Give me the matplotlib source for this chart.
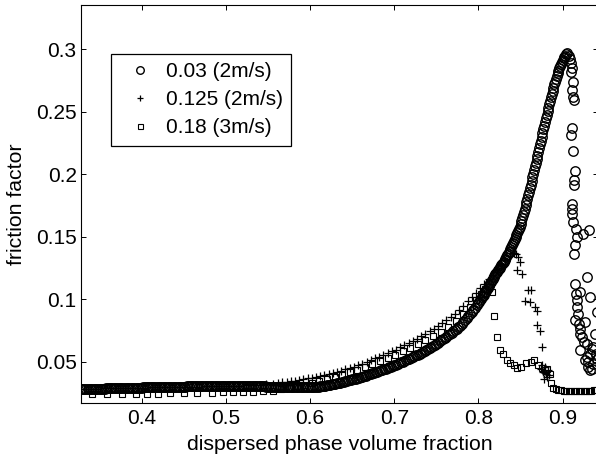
import matplotlib
matplotlib.use('Agg')
import matplotlib.pyplot as plt

plt.rcParams['font.family'] = ['Liberation Sans', 'DejaVu Sans']

# ---------------- data ----------------
# series "0.03 (2m/s)" (circles) - main curve, read at two interleaved sets of positions
circ_flat_x = [0.328, 0.332, 0.336, 0.340, 0.344, 0.348, 0.352, 0.356, 0.360, 0.364,
               0.368, 0.372, 0.376, 0.380, 0.384, 0.388, 0.392, 0.396, 0.400, 0.404,
               0.408, 0.412, 0.416, 0.420, 0.424, 0.428, 0.432, 0.436, 0.440, 0.444,
               0.448, 0.452, 0.456, 0.460, 0.464, 0.468, 0.472, 0.476, 0.480, 0.484,
               0.488, 0.492, 0.496, 0.500, 0.504, 0.508, 0.512, 0.516, 0.520, 0.524,
               0.528, 0.532, 0.536, 0.540, 0.544, 0.548, 0.552, 0.556, 0.560, 0.564,
               0.568, 0.572, 0.576, 0.580, 0.584, 0.588, 0.592, 0.596, 0.600]
circ_flat_y = [0.0278, 0.0279, 0.0280, 0.0281, 0.0282, 0.0283, 0.0284, 0.0285, 0.0286, 0.0287,
               0.0287, 0.0288, 0.0289, 0.0290, 0.0290, 0.0291, 0.0292, 0.0292, 0.0293, 0.0294,
               0.0294, 0.0295, 0.0296, 0.0296, 0.0297, 0.0298, 0.0298, 0.0299, 0.0300, 0.0300,
               0.0301, 0.0301, 0.0302, 0.0303, 0.0303, 0.0304, 0.0304, 0.0305, 0.0305, 0.0306,
               0.0306, 0.0307, 0.0307, 0.0308, 0.0308, 0.0308, 0.0308, 0.0307, 0.0307, 0.0306,
               0.0306, 0.0305, 0.0304, 0.0303, 0.0302, 0.0301, 0.0300, 0.0299, 0.0298, 0.0297,
               0.0297, 0.0296, 0.0296, 0.0295, 0.0295, 0.0295, 0.0295, 0.0296, 0.0296]
circ_flat2_x = [0.330, 0.334, 0.338, 0.342, 0.346, 0.350, 0.354, 0.358, 0.362, 0.366,
                0.370, 0.374, 0.378, 0.382, 0.386, 0.390, 0.394, 0.398, 0.402, 0.406,
                0.410, 0.414, 0.418, 0.422, 0.426, 0.430, 0.434, 0.438, 0.442, 0.446,
                0.450, 0.454, 0.458, 0.462, 0.466, 0.470, 0.474, 0.478, 0.482, 0.486,
                0.490, 0.494, 0.498, 0.502, 0.506, 0.510, 0.514, 0.518, 0.522, 0.526,
                0.530, 0.534, 0.538, 0.542, 0.546, 0.550, 0.554, 0.558, 0.562, 0.566,
                0.570, 0.574, 0.578, 0.582, 0.586, 0.590, 0.594, 0.598]
circ_flat2_y = [0.02785, 0.02795, 0.02805, 0.02815, 0.02825, 0.02835, 0.02845, 0.02855, 0.02865, 0.0287,
                0.02875, 0.02885, 0.02895, 0.0290, 0.02905, 0.02915, 0.0292, 0.02925, 0.02935, 0.0294,
                0.02945, 0.02955, 0.0296, 0.02965, 0.02975, 0.0298, 0.02985, 0.02995, 0.0300, 0.03005,
                0.0301, 0.03015, 0.03025, 0.0303, 0.03035, 0.0304, 0.03045, 0.0305, 0.03055, 0.0306,
                0.03065, 0.0307, 0.03075, 0.0308, 0.0308, 0.0308, 0.03075, 0.0307, 0.03065, 0.0306,
                0.03055, 0.03045, 0.03035, 0.03025, 0.03015, 0.03005, 0.02995, 0.02985, 0.02975, 0.0297,
                0.02965, 0.0296, 0.02955, 0.0295, 0.0295, 0.0295, 0.02955, 0.0296]
circ_mid_x = [0.604, 0.608, 0.612, 0.616, 0.620, 0.624, 0.628, 0.632, 0.636, 0.640,
              0.644, 0.648, 0.652, 0.656, 0.660, 0.664, 0.668, 0.672, 0.676, 0.680,
              0.684, 0.688, 0.692, 0.696, 0.700, 0.704, 0.708, 0.712, 0.716, 0.720,
              0.724, 0.728, 0.732, 0.736, 0.740, 0.744, 0.748, 0.752, 0.756, 0.760,
              0.764, 0.768, 0.772, 0.776, 0.780, 0.784, 0.788, 0.792, 0.796, 0.800]
circ_mid_y = [0.0298, 0.0300, 0.0302, 0.0306, 0.0310, 0.0315, 0.0321, 0.0327, 0.0333, 0.0340,
              0.0347, 0.0354, 0.0361, 0.0368, 0.0375, 0.0384, 0.0393, 0.0402, 0.0411, 0.0420,
              0.0430, 0.0440, 0.0450, 0.0460, 0.0470, 0.0482, 0.0494, 0.0506, 0.0518, 0.0530,
              0.0543, 0.0557, 0.0571, 0.0585, 0.0600, 0.0617, 0.0634, 0.0652, 0.0671, 0.0690,
              0.0710, 0.0731, 0.0753, 0.0776, 0.0800, 0.0830, 0.0862, 0.0895, 0.0931, 0.0970]
circ_mid2_x = [0.602, 0.606, 0.610, 0.614, 0.618, 0.622, 0.626, 0.630, 0.634, 0.638,
               0.642, 0.646, 0.650, 0.654, 0.658, 0.662, 0.666, 0.670, 0.674, 0.678,
               0.682, 0.686, 0.690, 0.694, 0.698, 0.702, 0.706, 0.710, 0.714, 0.718,
               0.722, 0.726, 0.730, 0.734, 0.738, 0.742, 0.746, 0.750, 0.754, 0.758,
               0.762, 0.766, 0.770, 0.774, 0.778, 0.782, 0.786, 0.790, 0.794, 0.798]
circ_mid2_y = [0.0297, 0.0299, 0.0301, 0.0304, 0.0308, 0.03125, 0.0318, 0.0324, 0.0330, 0.03365,
               0.03435, 0.03505, 0.03575, 0.03645, 0.03715, 0.03795, 0.03885, 0.03975, 0.04065, 0.04155,
               0.0425, 0.0435, 0.0445, 0.0455, 0.0465, 0.0476, 0.0488, 0.0500, 0.0512, 0.0524,
               0.05365, 0.0550, 0.0564, 0.0578, 0.05925, 0.06085, 0.06255, 0.0643, 0.06615, 0.06805,
               0.0700, 0.07205, 0.0742, 0.07645, 0.0788, 0.0815, 0.0846, 0.08785, 0.0913, 0.09505]
circ_rise_x = [0.802, 0.804, 0.806, 0.808, 0.810, 0.812, 0.814, 0.816, 0.818, 0.820,
               0.822, 0.824, 0.826, 0.828, 0.830, 0.832, 0.834, 0.836, 0.838, 0.840,
               0.842, 0.844, 0.846, 0.848, 0.850, 0.852, 0.854, 0.856, 0.858, 0.860,
               0.862, 0.864, 0.866, 0.868, 0.870, 0.872, 0.874, 0.876, 0.878, 0.880,
               0.882, 0.884, 0.886, 0.888, 0.890, 0.892, 0.894, 0.896, 0.898, 0.900,
               0.902, 0.904]
circ_rise_y = [0.0992, 0.1014, 0.1036, 0.1058, 0.1080, 0.1104, 0.1128, 0.1152, 0.1176, 0.1200,
               0.1220, 0.1240, 0.1260, 0.1280, 0.1300, 0.1325, 0.1350, 0.1376, 0.1403, 0.1430,
               0.1462, 0.1495, 0.1528, 0.1563, 0.1600, 0.1650, 0.1700, 0.1752, 0.1805, 0.1860,
               0.1918, 0.1976, 0.2034, 0.2092, 0.2150, 0.2210, 0.2270, 0.2330, 0.2390, 0.2450,
               0.2505, 0.2560, 0.2615, 0.2668, 0.2720, 0.2765, 0.2808, 0.2848, 0.2885, 0.2918,
               0.2942, 0.2960]
circ_rise2_x = [0.801, 0.803, 0.805, 0.807, 0.809, 0.811, 0.813, 0.815, 0.817, 0.819,
                0.821, 0.823, 0.825, 0.827, 0.829, 0.831, 0.833, 0.835, 0.837, 0.839,
                0.841, 0.843, 0.845, 0.847, 0.849, 0.851, 0.853, 0.855, 0.857, 0.859,
                0.861, 0.863, 0.865, 0.867, 0.869, 0.871, 0.873, 0.875, 0.877, 0.879,
                0.881, 0.883, 0.885, 0.887, 0.889, 0.891, 0.893, 0.895, 0.897, 0.899,
                0.901, 0.903]
circ_rise2_y = [0.0981, 0.1003, 0.1025, 0.1047, 0.1069, 0.1092, 0.1116, 0.1140, 0.1164, 0.1188,
                0.1210, 0.1230, 0.1250, 0.1270, 0.1290, 0.13125, 0.13375, 0.1363, 0.13895, 0.14165,
                0.1446, 0.14785, 0.15115, 0.15455, 0.15815, 0.1625, 0.1675, 0.1726, 0.17785, 0.18325,
                0.1889, 0.1947, 0.2005, 0.2063, 0.2121, 0.2180, 0.2240, 0.2300, 0.2360, 0.2420,
                0.24775, 0.25325, 0.25875, 0.26415, 0.2694, 0.27425, 0.27865, 0.2828, 0.28665, 0.29015,
                0.2930, 0.2951]
# circles after the peak (scattered)
circ_tail = [(0.9055, 0.2968), (0.907, 0.2950), (0.909, 0.2925), (0.910, 0.2888), (0.911, 0.2848),
             (0.910, 0.2820), (0.912, 0.2740), (0.911, 0.2674), (0.912, 0.2620), (0.913, 0.2594),
             (0.9107, 0.2367), (0.910, 0.2313), (0.912, 0.2185), (0.915, 0.2025), (0.913, 0.1953),
             (0.914, 0.1913), (0.911, 0.1766), (0.911, 0.1726), (0.911, 0.1686), (0.912, 0.1619),
             (0.916, 0.1566), (0.9245, 0.1526), (0.9316, 0.1552), (0.9175, 0.1500), (0.9146, 0.1432),
             (0.913, 0.1365), (0.9285, 0.1178), (0.9146, 0.1125), (0.9158, 0.1045), (0.9205, 0.1058),
             (0.9324, 0.1018), (0.9166, 0.0991), (0.9166, 0.0938), (0.9185, 0.0885), (0.9146, 0.0831),
             (0.9205, 0.0764), (0.9265, 0.0818), (0.9225, 0.0697), (0.9285, 0.0644), (0.9205, 0.0590),
             (0.9324, 0.0564), (0.9265, 0.0510), (0.9304, 0.0457), (0.9364, 0.0617), (0.9384, 0.0724),
             (0.9364, 0.0480), (0.9345, 0.0440), (0.9325, 0.0430), (0.9305, 0.0500), (0.9390, 0.0560),
             (0.9345, 0.0600), (0.9285, 0.0540), (0.9250, 0.0660), (0.9210, 0.0720), (0.9195, 0.0800),
             (0.9405, 0.0900), (0.9405, 0.0520)]

# series "0.125 (2m/s)" (plus)
plus_flat_x = [0.332, 0.340, 0.348, 0.356, 0.364, 0.372, 0.380, 0.388, 0.396, 0.404,
               0.412, 0.420, 0.428, 0.436, 0.444, 0.452, 0.460, 0.468, 0.476, 0.484,
               0.492, 0.500, 0.508, 0.516, 0.524, 0.532, 0.540, 0.548, 0.556]
plus_flat_y = [0.0283, 0.0284, 0.0285, 0.0287, 0.0288, 0.0289, 0.0290, 0.0291, 0.0292, 0.0293,
               0.0294, 0.0295, 0.0296, 0.0297, 0.0298, 0.0299, 0.0300, 0.0301, 0.0302, 0.0303,
               0.0305, 0.0306, 0.0308, 0.0309, 0.0311, 0.0313, 0.0316, 0.0320, 0.0325]
plus_rise_x = [0.562, 0.567, 0.572, 0.577, 0.582, 0.587, 0.592, 0.597, 0.602, 0.607,
               0.612, 0.617, 0.622, 0.627, 0.632, 0.637, 0.642, 0.647, 0.652, 0.657,
               0.662, 0.667, 0.672, 0.677, 0.682, 0.687, 0.692, 0.697, 0.702, 0.707,
               0.712, 0.717, 0.722, 0.727, 0.732, 0.737, 0.742, 0.747, 0.752, 0.757,
               0.762, 0.767, 0.772, 0.777, 0.782, 0.787, 0.792, 0.797, 0.802, 0.807,
               0.812, 0.817, 0.822, 0.827, 0.832, 0.837, 0.842]
plus_rise_y = [0.0331, 0.0335, 0.0339, 0.0343, 0.0347, 0.0353, 0.0359, 0.0366, 0.0373, 0.0380,
               0.0388, 0.0396, 0.0403, 0.0411, 0.0420, 0.0429, 0.0439, 0.0450, 0.0461, 0.0473,
               0.0485, 0.0498, 0.0512, 0.0526, 0.0540, 0.0554, 0.0568, 0.0582, 0.0597, 0.0614,
               0.0631, 0.0648, 0.0666, 0.0684, 0.0703, 0.0723, 0.0743, 0.0764, 0.0785, 0.0807,
               0.0830, 0.0857, 0.0885, 0.0915, 0.0947, 0.0982, 0.1017, 0.1052, 0.1093, 0.1125,
               0.1158, 0.1195, 0.1235, 0.1275, 0.1315, 0.1345, 0.1370]
plus_tail = [(0.845, 0.1360), (0.8473, 0.1338), (0.849, 0.1300), (0.8453, 0.1232), (0.8513, 0.1200),
             (0.859, 0.1077), (0.862, 0.1077), (0.855, 0.0986), (0.861, 0.0978), (0.867, 0.0938),
             (0.869, 0.0903), (0.869, 0.0791), (0.873, 0.0743), (0.875, 0.0617), (0.877, 0.0417),
             (0.880, 0.0400), (0.878, 0.0363), (0.874, 0.0440), (0.876, 0.0470), (0.879, 0.0455),
             (0.882, 0.0430), (0.881, 0.0380), (0.884, 0.0395)]

# series "0.18 (3m/s)" (squares)
sq_flat_x = [0.3406, 0.3584, 0.3762, 0.3932, 0.4066, 0.4197, 0.4336, 0.4502, 0.4653, 0.4831,
             0.4962, 0.5088, 0.5199, 0.5318, 0.5444, 0.5563]
sq_flat_y = [0.0240, 0.0241, 0.0242, 0.0243, 0.0244, 0.0245, 0.0246, 0.0248, 0.0250, 0.0252,
             0.0254, 0.0256, 0.0258, 0.0260, 0.0262, 0.0266]
sq_rise_x = [0.566, 0.575, 0.584, 0.593, 0.602, 0.611, 0.620, 0.629, 0.638, 0.647,
             0.656, 0.665, 0.674, 0.683, 0.692, 0.701, 0.710, 0.719, 0.728, 0.737,
             0.746, 0.755, 0.764, 0.773, 0.782, 0.790, 0.797, 0.803, 0.808, 0.812, 0.816]
sq_rise_y = [0.0280, 0.0290, 0.0302, 0.0316, 0.0330, 0.0345, 0.0360, 0.0378, 0.0396, 0.0415,
             0.0436, 0.0458, 0.0481, 0.0505, 0.0530, 0.0556, 0.0583, 0.0610, 0.0640, 0.0672,
             0.0705, 0.0740, 0.0780, 0.0825, 0.0880, 0.0935, 0.0990, 0.1040, 0.1080, 0.1100, 0.1060]
sq_tail = [(0.8184, 0.0863), (0.8216, 0.0697), (0.8255, 0.0596), (0.8294, 0.0559), (0.8342, 0.0510),
           (0.838, 0.0490), (0.842, 0.0470), (0.846, 0.0450), (0.851, 0.0460), (0.857, 0.0489),
           (0.862, 0.0500), (0.866, 0.0510), (0.871, 0.0470), (0.875, 0.0450), (0.879, 0.0430),
           (0.881, 0.0440), (0.885, 0.0400), (0.8865, 0.0329), (0.889, 0.0290), (0.892, 0.0282),
           (0.895, 0.0276), (0.898, 0.0272), (0.901, 0.0268), (0.904, 0.0266), (0.907, 0.0264),
           (0.910, 0.0263), (0.913, 0.0262), (0.916, 0.0262), (0.919, 0.0262), (0.922, 0.0263),
           (0.925, 0.0264), (0.928, 0.0265), (0.931, 0.0267), (0.934, 0.0268), (0.937, 0.0270),
           (0.940, 0.0272)]

labels = ['0.03 (2m/s)', '0.125 (2m/s)', '0.18 (3m/s)']
xticks = [0.4, 0.5, 0.6, 0.7, 0.8, 0.9]
xticklabels = ['0.4', '0.5', '0.6', '0.7', '0.8', '0.9']
yticks = [0.05, 0.1, 0.15, 0.2, 0.25, 0.3]
yticklabels = ['0.05', '0.1', '0.15', '0.2', '0.25', '0.3']

# ---------------- assemble ----------------
cx = (circ_flat_x + circ_flat2_x + circ_mid_x + circ_mid2_x + circ_rise_x + circ_rise2_x
      + [p[0] for p in circ_tail])
cy = (circ_flat_y + circ_flat2_y + circ_mid_y + circ_mid2_y + circ_rise_y + circ_rise2_y
      + [p[1] for p in circ_tail])
px = plus_flat_x + plus_rise_x + [p[0] for p in plus_tail]
py = plus_flat_y + plus_rise_y + [p[1] for p in plus_tail]
sx = sq_flat_x + sq_rise_x + [p[0] for p in sq_tail]
sy = sq_flat_y + sq_rise_y + [p[1] for p in sq_tail]

fig = plt.figure(figsize=(5.96, 4.61), dpi=100)
ax = fig.add_axes([81 / 596, 58 / 461, 516.7 / 596, 397.7 / 461])

mk = dict(linestyle='none', markerfacecolor='none', markeredgecolor='black')
ax.plot(cx, cy, marker='o', markersize=6.8, markeredgewidth=1.0, label=labels[0], **mk)
ax.plot(px, py, marker='+', markersize=5.5, markeredgewidth=0.9, label=labels[1], **mk)
ax.plot(sx, sy, marker='s', markersize=4.5, markeredgewidth=0.8, label=labels[2], **mk)

ax.set_xlim(0.3279, 0.9416)
ax.set_ylim(0.0169, 0.3353)
ax.set_xticks(xticks)
ax.set_xticklabels(xticklabels)
ax.set_yticks(yticks)
ax.set_yticklabels(yticklabels)
ax.tick_params(direction='in', top=True, right=True, length=3.6, width=0.7, labelsize=15)
ax.tick_params(axis='x', pad=4.5)
ax.tick_params(axis='y', pad=3.1)
for s in ax.spines.values():
    s.set_linewidth(0.8)

ax.set_xlabel('dispersed phase volume fraction', fontsize=15.3)
ax.xaxis.set_label_coords(0.5, -0.080)
ax.set_ylabel('friction factor', fontsize=15.3)
ax.yaxis.set_label_coords(-0.1064, 0.5)

leg = ax.legend(loc='upper left', bbox_to_anchor=(0.0575, 0.8775), borderaxespad=0,
                frameon=True, fancybox=False, edgecolor='black', framealpha=1,
                fontsize=15, handlelength=2.0, handletextpad=0.26, labelspacing=0.43,
                borderpad=0.4, markerscale=0.8)
leg.get_frame().set_linewidth(0.9)

fig.savefig('out.png', dpi=100)
